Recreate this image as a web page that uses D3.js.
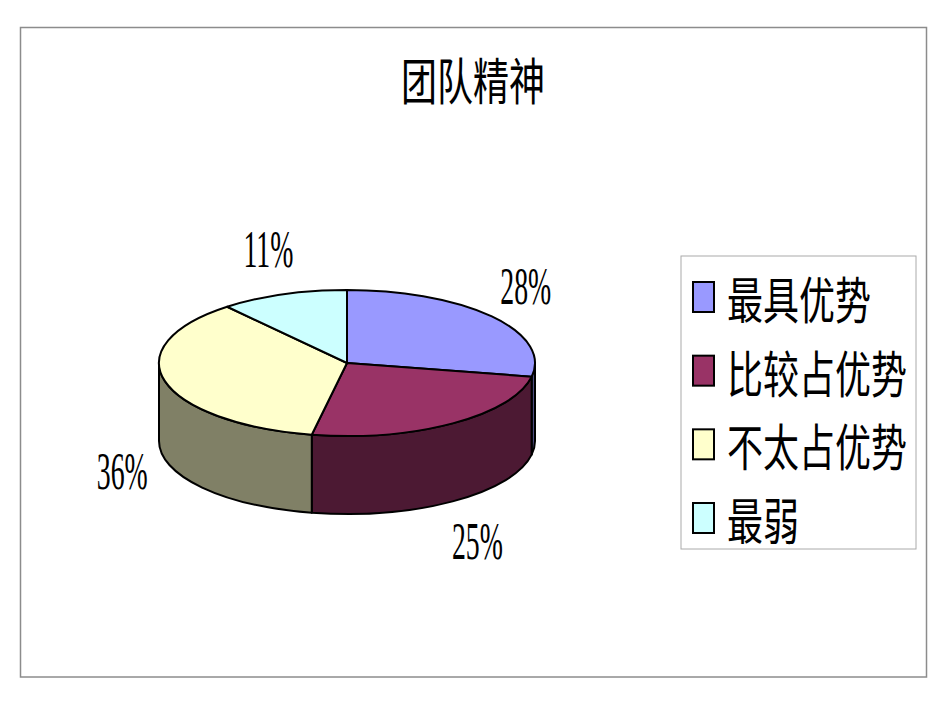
<!DOCTYPE html>
<html>
<head>
<meta charset="utf-8">
<script src="https://cdn.jsdelivr.net/npm/d3@7"></script>
<style>
  html, body { margin: 0; padding: 0; background: #fff; }
  svg { display: block; }
</style>
</head>
<body>
<svg id="chart" width="950" height="713"></svg>
<script>
// ----------- Data ------------
const title = "团队精神";
const categories = ["最具优势", "比较占优势", "不太占优势", "最弱"];
const values = [28, 25, 36, 11];
const valueLabels = ["28%", "25%", "36%", "11%"];

// ----------- Styles ------------
const topColors  = ["#9999FF", "#993366", "#FFFFCC", "#CCFFFF"];
const sideColors = ["#4D4D80", "#4C1933", "#808066", "#668080"];
const cjkFont = "'Noto Sans CJK SC', sans-serif";
const squeeze = 0.72;   // narrow CJK glyphs like the original

const svg = d3.select("#chart");

// outer frame
svg.append("rect")
  .attr("x", 20.5).attr("y", 27.5)
  .attr("width", 906).attr("height", 649.5)
  .attr("fill", "none").attr("stroke", "#8c8c8c").attr("stroke-width", 1.5);

// title
svg.append("text")
  .attr("transform", `translate(473,100) scale(${squeeze},1)`)
  .attr("text-anchor", "middle")
  .attr("font-family", cjkFont)
  .attr("font-size", 50)
  .text(title);

// ----------- 3D pie ------------
const cx = 347, cy = 363, rx = 188, ry = 73, depth = 78;
const pt = (a, dy = 0) => [cx + rx * Math.sin(a), cy - ry * Math.cos(a) + dy];

const arcs = d3.pie().sort(null).startAngle(0).endAngle(2 * Math.PI)(values);

const g = svg.append("g");

// side walls (front half only)
arcs.forEach((d, i) => {
  const a0 = Math.max(d.startAngle, Math.PI / 2);
  const a1 = Math.min(d.endAngle, 3 * Math.PI / 2);
  if (a1 <= a0) return;
  const p0 = pt(a0), p1 = pt(a1);
  const path = `M${p0[0]},${p0[1]}` +
    `A${rx},${ry} 0 0 1 ${p1[0]},${p1[1]}` +
    `L${p1[0]},${p1[1] + depth}` +
    `A${rx},${ry} 0 0 0 ${p0[0]},${p0[1] + depth}Z`;
  g.append("path")
    .attr("d", path)
    .attr("fill", sideColors[i])
    .attr("stroke", "#000").attr("stroke-width", 2)
    .attr("stroke-linejoin", "round");
});

// top faces
arcs.forEach((d, i) => {
  const p0 = pt(d.startAngle), p1 = pt(d.endAngle);
  const large = d.endAngle - d.startAngle > Math.PI ? 1 : 0;
  const path = `M${cx},${cy}L${p0[0]},${p0[1]}` +
    `A${rx},${ry} 0 ${large} 1 ${p1[0]},${p1[1]}Z`;
  g.append("path")
    .attr("d", path)
    .attr("fill", topColors[i])
    .attr("stroke", "#000").attr("stroke-width", 2)
    .attr("stroke-linejoin", "round");
});

// value labels, pushed out from the rim (bottom rim for front slices)
arcs.forEach((d, i) => {
  const mid = (d.startAngle + d.endAngle) / 2;
  const front = Math.cos(mid) < 0 ? depth : 0;
  const anchor = pt(mid, front);
  const lx = anchor[0] + Math.sin(mid) * 44;
  const ly = anchor[1] - Math.cos(mid) * 48;
  svg.append("text")
    .attr("transform", `translate(${lx},${ly + 18}) scale(0.535,1)`)
    .attr("text-anchor", "middle")
    .attr("font-family", "'Liberation Serif', serif")
    .attr("font-size", 52)
    .text(valueLabels[i]);
});

// ----------- Legend ------------
svg.append("rect")
  .attr("x", 681).attr("y", 256)
  .attr("width", 235).attr("height", 293)
  .attr("fill", "none").attr("stroke", "#aaaaaa").attr("stroke-width", 1);

const rowY = d3.scalePoint().domain(categories).range([297, 518]);

const item = svg.append("g").selectAll("g")
  .data(categories)
  .join("g")
  .attr("transform", d => `translate(0,${rowY(d)})`);

item.append("rect")
  .attr("x", 693).attr("y", -15)
  .attr("width", 21).attr("height", 30)
  .attr("fill", (d, i) => topColors[i])
  .attr("stroke", "#000").attr("stroke-width", 2);

item.append("text")
  .attr("transform", `translate(727,22) scale(${squeeze},1)`)
  .attr("font-family", cjkFont)
  .attr("font-size", 50)
  .text(d => d);
</script>
</body>
</html>
